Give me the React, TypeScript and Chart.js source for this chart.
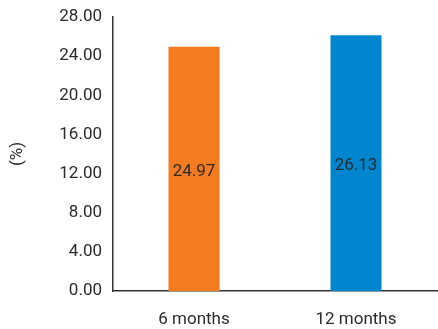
import React, { useEffect, useRef } from "react";
import { Chart, registerables } from "chart.js";
Chart.register(...registerables);

const categories = ["6 months", "12 months"];
const values = [24.97, 26.13];
const barColors = ["#F47B20", "#0085CF"];
const yMin = 0;
const yMax = 28;
const yStep = 4;

const FONT = "Roboto, sans-serif";

const centerLabels = {
  id: "centerLabels",
  afterDatasetsDraw(chart: any) {
    const ctx = chart.ctx;
    const meta = chart.getDatasetMeta(0);
    ctx.save();
    ctx.font = `17px ${FONT}`;
    ctx.fillStyle = "#2b2b2b";
    ctx.textAlign = "center";
    ctx.textBaseline = "middle";
    meta.data.forEach((bar: any, i: number) => {
      const yMid = (bar.y + bar.base) / 2 + 3;
      ctx.fillText(values[i].toFixed(2), bar.x, yMid);
    });
    ctx.restore();
  },
};

export default function App() {
  const ref = useRef<HTMLCanvasElement>(null);
  useEffect(() => {
    document.body.style.margin = "0";
    const chart = new Chart(ref.current!, {
      type: "bar",
      data: {
        labels: categories,
        datasets: [
          {
            data: values,
            backgroundColor: barColors,
            barPercentage: 0.315,
            categoryPercentage: 1,
          },
        ],
      },
      options: {
        animation: false,
        responsive: false,
        maintainAspectRatio: false,
        layout: { padding: { top: 17, right: 1, left: 0, bottom: 0 } },
        plugins: { legend: { display: false }, tooltip: { enabled: false } },
        scales: {
          x: {
            grid: { display: false, drawTicks: false },
            border: { color: "#333333", width: 1.5 },
            ticks: { color: "#2b2b2b", font: { family: FONT, size: 17 }, padding: 19 },
            afterFit(s: any) {
              s.height = 38;
            },
          },
          y: {
            min: yMin,
            max: yMax,
            grid: { display: false, drawTicks: true, tickLength: 5, color: "#333333" },
            border: { color: "#333333", width: 1.5 },
            ticks: {
              stepSize: yStep,
              color: "#2b2b2b",
              padding: 6,
              font: { family: FONT, size: 17 },
              callback: (v: any) => Number(v).toFixed(2),
            },
            title: {
              display: true,
              text: "(%)",
              color: "#2b2b2b",
              font: { family: FONT, size: 17 },
              padding: { top: 8, bottom: 20 },
            },
            afterFit(s: any) {
              s.width = 113;
            },
          },
        },
      },
      plugins: [centerLabels],
    });
    return () => chart.destroy();
  }, []);
  return (
    <div style={{ width: 438, height: 329 }}>
      <canvas ref={ref} width={438} height={329} style={{ width: 438, height: 329 }} />
    </div>
  );
}
